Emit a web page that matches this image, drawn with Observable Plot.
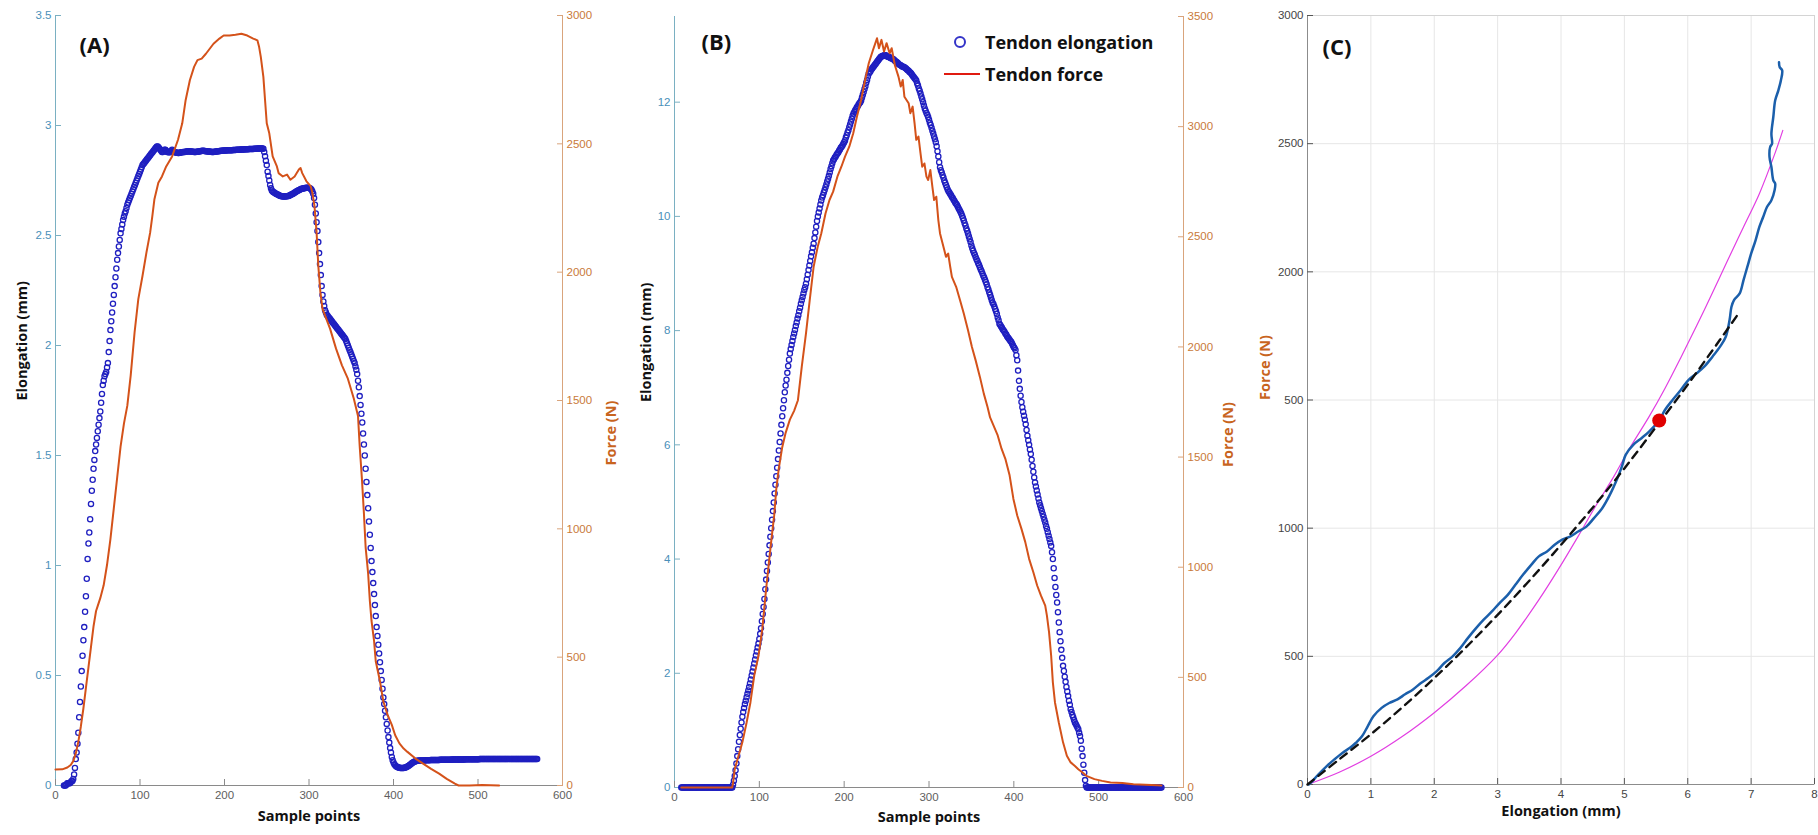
<!DOCTYPE html>
<html><head><meta charset="utf-8">
<script src="https://cdn.jsdelivr.net/npm/d3@7"></script>
<script src="https://cdn.jsdelivr.net/npm/@observablehq/plot@0.6"></script>
<style>
html,body{margin:0;padding:0;background:#fff;}
#chart{position:relative;width:1818px;height:835px;overflow:hidden;background:#fff;}
#chart svg{position:absolute;left:0;top:0;}
.lg{position:absolute;font-family:"Open Sans",sans-serif;font-weight:700;font-size:18px;color:#111;line-height:24px;white-space:nowrap;}
</style></head><body><div id="chart"></div>
<script>
// ---------------- DATA ----------------
// tick values / labels
const ticksSample = [0,100,200,300,400,500,600];
const ticksElongA = [0,0.5,1,1.5,2,2.5,3,3.5];
const ticksForceA = [0,500,1000,1500,2000,2500,3000];
const ticksElongB = [0,2,4,6,8,10,12];
const ticksForceB = [0,500,1000,1500,2000,2500,3000,3500];
const ticksElongC = [0,1,2,3,4,5,6,7,8];
const ticksForceC = [0,500,1000,1500,2000,2500,3000];
const labelsForceC = ["0","500","1000","500","2000","2500","3000"];

// Panel A: tendon elongation (mm), one value per sample point
const elongARiseStart = 10;
const elongARise = [0,0,0,0.005,0.01,0.01,0.01,0.01,0.015,0.02,0.02,0.03,0.05,
0.08,0.12,0.15,0.19,0.24,0.31,0.38,0.45,0.52,0.59,
0.66,0.72,0.79,0.86,0.94,1.03,1.10,1.15,1.21,1.28,
1.34,1.39,1.44,1.48,1.52,1.55,1.58,1.61,1.64,1.67,
1.70,1.74,1.78,1.82,1.84,1.86,1.87,1.88,1.90,1.92,
1.97,2.02,2.07,2.11,2.15,2.19,2.23,2.27,2.31,2.35,
2.39,2.42,2.45,2.48,2.51,2.53,2.55,2.57,2.585,2.60,
2.61,2.625,2.64,2.65,2.66,2.67,2.68,2.69,2.70,2.71,
2.72,2.73,2.74,2.75,
2.76,2.77,2.78,2.79,2.80,2.81,2.82,2.825,2.83,2.835,
2.84,2.845,2.85,2.855,2.86,2.865,2.87,2.875,2.88,2.885,
2.89,2.895,2.90,2.905,2.905];
const elongAPlateauStart = 122;
const elongAPlateau = [2.90,2.895,2.89,2.885,2.88,2.88,2.885,2.89,2.89,
2.885,2.88,2.88,2.878,2.878,2.88,2.885,2.89,2.885,2.88,
2.88,2.878,2.876,2.876,2.875,2.875,2.876,2.877,2.878,2.878,
2.879,2.88,2.88,2.881,2.882,2.882,2.883,2.883,2.882,2.882,
2.882,2.881,2.881,2.88,2.88,2.88,2.881,2.881,2.882,2.882,
2.883,2.884,2.884,2.885,2.885,2.884,2.884,2.883,2.883,2.882,
2.882,2.882,2.881,2.881,2.88,2.88,2.88,2.881,2.881,2.882,
2.882,2.883,2.883,2.884,2.884,2.885,2.885,2.885,2.886,2.886,
2.886,2.886,2.887,2.887,2.887,2.888,2.888,2.888,2.888,2.889,
2.889,2.889,2.889,2.89,2.89,2.89,2.89,2.89,2.891,2.891,
2.891,2.891,2.891,2.892,2.892,2.892,2.892,2.892,2.893,2.893,
2.893,2.893,2.893,2.893,2.894,2.894,2.894,2.894,2.895,2.895,
2.895,2.895,2.895,2.896,2.896,2.894];
const elongAFallStart = 247;
const elongAFall = [2.88,2.86,2.84,2.82,2.79,2.77,2.75,2.73,2.715,2.705,2.70,2.697,
2.695,2.692,2.69,2.688,2.686,2.684,2.682,2.68,2.679,2.678,2.677,2.677,
2.677,2.677,2.678,2.678,2.679,2.68,2.682,2.684,2.686,2.688,
2.69,2.692,2.695,2.697,2.70,2.702,2.704,2.706,2.708,2.71,
2.712,2.713,2.714,2.715,2.716,2.716,2.717,2.717,2.717,2.716,2.715,2.712,2.708,2.70,2.69,
2.67,2.64,2.60,2.56,2.52,2.47,2.42,2.37,2.32,2.27,2.23,2.20,2.18,2.16,2.15,
2.14,2.135,2.13,2.125,2.12,2.115,2.11,2.105,2.10,2.095,2.09,2.085,2.08,2.075,2.07,2.065,2.06,2.055,2.05,2.045,
2.04,2.035,2.03,2.02,2.01,2.00,1.99,1.98,1.97,1.96,1.95,1.94,1.93,1.92,1.905,1.89,
1.87,1.84,1.81,1.77,1.73,1.69,1.65,1.60,
1.55,1.50,1.44,1.38,1.32,1.26,1.20,1.14,1.08,1.02,0.97,
0.92,0.87,0.82,0.77,0.72,0.68,0.64,0.60,0.56,0.52,0.48,0.44,0.40,0.37,0.34,
0.31,0.28,0.25,0.22,0.195,0.17,0.15,0.13,0.115,0.105,0.097,0.092,0.088,0.085,0.083,
0.082,0.081,0.08,0.08,0.08,0.08,0.08,0.081,0.082,0.083,0.085,0.087,0.09,0.093,0.096,
0.099,0.102,0.105,0.107,0.109,0.11,0.111,0.112,0.113,0.113,0.114,0.114,0.114,0.114,0.114];
const elongATailStart = 436;
const elongATail = [0.114,0.114,0.115,0.115,0.115,0.115,0.115,0.115,0.116,0.116,
0.116,0.116,0.116,0.116,0.116,0.116,0.116,0.116,0.116,0.117,
0.117,0.117,0.117,0.117,0.117,0.117,0.117,0.117,0.117,0.117,
0.117,0.117,0.117,0.118,0.118,0.118,0.118,0.118,0.118,0.118,
0.118,0.118,0.118,0.118,0.118,0.118,0.118,0.118,0.118,0.119,
0.119,0.119,0.119,0.119,0.119,0.119,0.119,0.119,0.119,0.119,
0.119,0.119,0.119,0.119,0.119,0.119,0.12,0.12,0.12,0.12,
0.12,0.12,0.12,0.12,0.12,0.12,0.12,0.12,0.12,0.12,
0.12,0.12,0.12,0.12,0.12,0.12,0.12,0.12,0.12,0.12,
0.12,0.12,0.12,0.121,0.121,0.121,0.121,0.121,0.121,0.121,
0.121,0.121,0.121,0.121,0.121,0.121,0.121,0.121,0.121,0.121,
0.121,0.121,0.121,0.121,0.121,0.121,0.121,0.121,0.121,0.121,
0.121,0.121,0.121,0.121,0.121,0.121,0.121,0.121,0.121,0.121,
0.121,0.121,0.121,0.121,0.121];

// Panel A: tendon force (N) as [sample, force]
const forceA = [[0,62],[8,63],[14,70],[18,80],[21,95],[24,125],[27,170],[30,230],[33,300],[36,380],[39,460],[42,540],[45,620],[48,680],[50,700],[53,730],[57,780],[61,860],[65,960],[69,1080],[73,1200],[77,1320],[81,1410],[85,1480],[89,1598],[93.6,1766],[98,1895],[103,1986],[107.6,2076],[112,2154],[114.6,2218],[117,2283],[121.7,2348],[126,2373],[131,2412],[138,2451],[145,2516],[150,2580],[154,2670],[159,2748],[164,2800],[168,2826],[173,2832],[178,2851],[187,2890],[194,2910],[199,2922],[206,2922],[213,2925],[220,2929],[227,2922],[234,2910],[239,2903],[241,2877],[243,2838],[246,2761],[248,2670],[250,2580],[253,2541],[257,2451],[262,2412],[264,2386],[269,2373],[274,2380],[278,2360],[283,2373],[288,2400],[290,2406],[292,2386],[297,2354],[302,2335],[304,2309],[306.5,2257],[309,2154],[311,2025],[313.5,1921],[316,1857],[320.5,1818],[325,1779],[332,1702],[339,1637],[346,1585],[353,1508],[358,1440],[360,1322],[362.7,1191],[365,1060],[367,929],[370,825],[372,720],[374,641],[377,563],[379,484],[384,406],[388,327],[393,275],[398,236],[402,196],[407,164],[412,144],[416.5,131],[426,105],[435,85],[444.5,65],[454,46],[463,26],[472.6,7],[477,0],[490,0],[505,2],[515,1],[525,0]];

// Panel B: tendon elongation (mm), one value per sample point
const elongBBaseStart = 8;
const elongBBase = [0,0,0,0,0,0,0,0,0,0, 0,0,0,0,0,0,0,0,0,0, 0,0,0,0,0,0,0,0,0,0,
0,0,0,0,0,0,0,0,0,0, 0,0,0,0,0,0,0,0,0,0, 0,0,0,0,0,0,0,0,0,0, 0];
const elongBRiseStart = 69;
const elongBRise = [0.05,0.12,0.2,0.3,0.42,0.55,0.67,0.8,0.92,1.03,1.14,1.24,
1.32,1.39,1.46,1.52,1.58,1.64,1.70,1.76,1.82,1.89,1.96,2.03,2.10,2.17,2.24,2.31,2.38,2.45,2.52,2.60,
2.69,2.79,2.91,3.04,3.16,3.30,3.47,3.64,
3.79,3.94,4.09,4.24,4.39,4.54,4.69,4.84,4.99,5.15,5.30,5.45,5.60,5.75,5.90,6.05,6.20,6.35,6.50,
6.64,6.78,6.92,7.04,7.14,7.26,7.38,7.49,7.60,7.68,7.75,7.82,7.89,7.95,
8.01,8.08,8.14,8.21,8.27,8.34,8.40,8.47,8.53,8.59,8.65,8.71,8.76,8.82,8.90,8.98,9.06,9.14,9.22,9.30,9.37,9.45,9.52,9.62,9.72,9.82,9.92,
10.0,10.07,10.14,10.21,10.28,10.33,10.37,10.42,10.46,10.51,10.56,10.61,10.66,10.71,10.77,10.83,10.88,10.93,10.98,11.0,11.03,11.05,11.08,11.1,11.12,11.15,11.17,11.2,11.22,11.24,11.27,11.3,11.33,
11.38,11.42,11.47,11.51,11.56,11.61,11.66,11.71,11.76,11.8,11.83,11.86,11.88,11.91,11.93,11.96,11.98,12.0,12.03,12.08,12.13,12.18,12.23,12.28,12.34,12.39,12.45,12.5,12.52,12.54,12.57,12.59,12.61,12.63,12.65,12.67,12.69,12.71,12.73,12.75,12.77,12.79,12.8,12.81,12.81,12.82,12.82];
const elongBFallStart = 249;
const elongBFall = [12.82,12.81,12.80,12.79,12.79,12.78,12.77,12.77,12.76,12.75,12.74,12.72,12.71,12.70,12.69,12.67,12.66,12.65,12.64,12.63,12.62,12.62,12.61,12.6,12.59,12.57,12.56,12.55,12.53,12.52,12.50,12.48,12.46,12.44,12.42,12.40,12.38,
12.33,12.29,12.24,12.20,12.15,12.10,12.05,12.0,11.94,11.89,11.85,11.81,11.78,11.74,11.69,11.64,11.6,11.55,11.5,11.45,11.4,11.35,11.3,11.23,11.14,11.05,10.95,10.86,
10.81,10.77,10.72,10.68,10.63,10.59,10.55,10.51,10.47,10.44,10.42,10.39,10.37,10.34,10.32,10.29,10.27,10.24,10.22,10.2,10.17,10.14,10.11,10.08,10.05,10.01,9.97,9.93,
9.88,9.84,9.79,9.75,9.70,9.65,9.60,9.55,9.49,9.44, 9.40,9.36,9.33,9.29,9.25,9.22,9.18,9.15,9.11,9.07,
9.04,9.0,8.96,8.93,8.89,8.85,8.81,8.76,8.72,8.67, 8.63,8.58,8.53,8.49,8.46,8.42,8.38,8.34,8.29,8.23,
8.18,8.12,8.10,8.07,8.05,8.02,8.0,7.98,7.95,7.93, 7.90,7.88,7.86,7.84,7.82,7.8,7.77,7.74,7.71,7.69,
7.66,7.57,7.48,7.3,7.12,6.98,6.86,6.75,6.66,6.58,
6.51,6.44,6.36,6.26,6.16,6.08,6.0,5.92,5.84,5.74, 5.63,5.53,5.43,5.34,5.27,5.2,5.13,5.06,4.99,4.94,
4.89,4.84,4.79,4.74,4.69,4.64,4.58,4.53,4.47,4.41, 4.35,4.29,4.23,4.12,4.0,3.84,3.67,3.51,3.37,3.24,
3.07,2.89,2.72,2.56,2.41,2.27,2.13,2.04,1.94,1.85, 1.76,1.68,1.6,1.52,1.45,1.37,1.32,1.27,1.23,1.18,
1.14,1.11,1.08,1.05,1.02,0.96,0.9,0.82,0.68,0.55, 0.4,0.26,0.13,0.03];
const elongBTailStart = 486;
const elongBTail = [0,0,0,0,0,0,0,0,0,0, 0,0,0,0,0,0,0,0,0,0, 0,0,0,0,0,0,0,0,0,0,
0,0,0,0,0,0,0,0,0,0, 0,0,0,0,0,0,0,0,0,0, 0,0,0,0,0,0,0,0,0,0,
0,0,0,0,0,0,0,0,0,0, 0,0,0,0,0,0,0,0,0,0, 0,0,0,0,0,0,0,0,0];

// Panel B: tendon force (N) as [sample, force]
const forceB = [[8,0],[68,0],[69,20],[71,83],[75.5,144],[80,205],[85,295],[89.5,386],[94,508],[99,598],[103.5,720],[108,901],[113,1083],[117.5,1235],[120,1356],[123,1450],[127,1545],[131,1610],[136,1670],[141,1710],[145.5,1758],[150,1909],[155,2061],[159.4,2212],[164,2364],[168.8,2455],[173,2515],[178,2606],[182.7,2667],[187,2705],[192,2773],[196.7,2818],[201,2864],[206,2909],[210.7,2970],[215,3045],[220,3121],[224.7,3212],[229,3288],[234,3348],[238.7,3401],[241,3356],[244,3394],[247,3341],[250,3379],[253.6,3333],[256,3356],[259.7,3280],[264,3227],[266.7,3182],[269,3212],[271,3136],[276,3106],[278,3061],[280.7,3091],[283,3015],[285,2940],[287.6,2955],[290,2879],[292,2818],[294.6,2833],[297,2773],[299,2758],[301.6,2803],[304,2727],[306,2667],[308.6,2682],[311,2576],[313,2515],[318,2440],[320,2409],[322.6,2424],[325,2364],[327,2318],[332,2273],[336.6,2212],[341,2152],[346,2076],[350.6,2000],[355,1939],[360,1864],[364.6,1788],[369,1727],[372,1680],[376,1644],[381,1598],[385.5,1538],[390,1492],[395,1417],[399.5,1310],[404,1235],[409,1174],[413.5,1114],[418,1038],[423,977],[427.5,917],[432,871],[437,826],[439,780],[441.5,705],[444,598],[446,477],[448.5,386],[453,295],[458,205],[462.5,144],[467,114],[472,98],[476,83],[481,68],[485.5,53],[495,38],[504,30],[514,23],[528,20],[541,15],[555,12],[569,10],[574,9]];

// Panel C: force-elongation curve (elongation mm, force N)
const curveCElong = [0.02,0.05,0.17,0.3,0.42,0.55,0.67,0.76,0.86,0.95,1.04,1.17,1.29,1.42,1.54,1.66,1.79,1.91,2.04,2.16,2.29,2.41,2.53,2.66,2.78,2.91,3.03,3.16,3.28,3.4,3.53,3.65,3.78,3.9,4.02,4.15,4.27,4.4,4.52,4.65,4.77,4.89,4.96,5.02,5.14,5.27,5.39,5.55,5.64,5.76,5.89,6.01,6.14,6.26,6.39,6.51,6.6,6.66,6.69,6.73,6.82,6.88,6.94,7.0,7.07,7.13,7.19,7.25,7.32,7.37,7.38,7.35,7.32,7.29,7.3,7.33,7.32,7.35,7.38,7.43,7.47,7.49,7.45,7.44];
const curveCForce = [0,6,39,71,97,123,143,162,188,227,266,299,318,332,352,370,396,416,442,474,500,532,571,610,643,675,708,740,779,818,857,890,909,935,955,968,987,1006,1039,1078,1130,1195,1240,1286,1325,1351,1377,1420,1461,1500,1539,1578,1604,1630,1669,1708,1747,1812,1864,1890,1916,1968,2019,2071,2123,2175,2214,2253,2279,2318,2344,2357,2409,2448,2487,2500,2539,2604,2669,2708,2747,2786,2799,2818];
// dashed fitted line
const fitCElong = [0,0.5,1,1.5,2,2.5,3,3.5,4,4.5,5,5.5,6,6.5,6.82];
const fitCForce = [0,98,196,302,415,535,662,795,935,1080,1233,1395,1560,1732,1844];
// magenta model curve
const modelCElong = [0,0.5,1,1.5,2,2.5,3,3.28,3.65,3.96,4.27,4.52,4.83,5.08,5.39,5.64,5.89,6.14,6.39,6.63,6.88,7.13,7.38,7.5];
const modelCForce = [0,48,110,188,280,385,505,590,720,840,968,1075,1200,1310,1435,1545,1665,1790,1918,2045,2175,2305,2465,2552];
// red marker
const markerC = {elong: 5.55, force: 1420};

// ---------------- BUILD ----------------
const W = 1818, H = 835;
const root = document.getElementById("chart");
const seg = (start, arr) => arr.map((v, i) => ({x: start + i, y: v}));
const pairs = arr => arr.map(([x, y]) => ({x, y}));
const zip = (xs, ys) => xs.map((x, i) => ({x, y: ys[i]}));

const elongA = [...seg(elongARiseStart, elongARise), ...seg(elongAPlateauStart, elongAPlateau), ...seg(elongAFallStart, elongAFall), ...seg(elongATailStart, elongATail)];
const elongB = [...seg(elongBBaseStart, elongBBase), ...seg(elongBRiseStart, elongBRise), ...seg(elongBFallStart, elongBFall), ...seg(elongBTailStart, elongBTail)];

const BLUE_DOT = "#1f1fc0", ORANGE = "#d4521a";
const LEFT_LINE = "#7ab0c2", LEFT_TXT = "#4a90b9";
const RIGHT_LINE = "#d9a47c", RIGHT_TXT = "#c97a3a";
const BOT_LINE = "#8a8a8a", BOT_TXT = "#5e5e5e";
const TICK_FONT = "Liberation Sans, Arial, sans-serif";
const LBL_FONT = "Open Sans, sans-serif";

const base = (box) => ({
  width: W, height: H,
  marginLeft: box.l, marginRight: W - box.r, marginTop: box.t, marginBottom: H - box.b,
  style: {background: "transparent", fontFamily: TICK_FONT, overflow: "visible"}
});
const yAx = (anchor, ticks, fmt, line, txt) => Plot.axisY({anchor, ticks, tickFormat: fmt, tickSize: -6, tickPadding: 10, stroke: line, fill: txt, fontSize: 11.5, label: null});
const xAx = (ticks, line, txt) => Plot.axisX({anchor: "bottom", ticks, tickFormat: d => String(d), tickSize: -6, tickPadding: 11, stroke: line, fill: txt, fontSize: 11.5, label: null});
const yLabel = (t, anchor, dx, fill) => Plot.text([t], {text: d => d, frameAnchor: anchor, dx, rotate: -90, fontFamily: LBL_FONT, fontWeight: 700, fontSize: 14.5, fill});
const xLabel = (t, dy) => Plot.text([t], {text: d => d, frameAnchor: "bottom", dy, fontFamily: LBL_FONT, fontWeight: 700, fontSize: 14.5, fill: "#111"});
const panelTag = (t, dx, dy) => Plot.text([t], {text: d => d, frameAnchor: "top-left", dx, dy, textAnchor: "start", fontFamily: LBL_FONT, fontWeight: 700, fontSize: 22, fill: "#111"});

// ---- Panel A ----
const boxA = {l: 55, r: 562, t: 15, b: 785};
root.appendChild(Plot.plot({
  ...base(boxA),
  x: {domain: [0, 600], axis: null},
  y: {domain: [0, 3.5], axis: null},
  marks: [
    Plot.ruleX([0], {stroke: LEFT_LINE}),
    Plot.ruleY([0], {stroke: BOT_LINE}),
    yAx("left", ticksElongA, d => String(d), LEFT_LINE, LEFT_TXT),
    xAx(ticksSample, BOT_LINE, BOT_TXT),
    Plot.dot(elongA, {x: "x", y: "y", r: 2.6, stroke: BLUE_DOT, strokeWidth: 1.3, fill: "none"}),
    yLabel("Elongation (mm)", "left", -33, "#111"),
    xLabel("Sample points", 35),
    panelTag("(A)", 24, 22)
  ]
}));
root.appendChild(Plot.plot({
  ...base(boxA),
  x: {domain: [0, 600], axis: null},
  y: {domain: [0, 3000], axis: null},
  marks: [
    Plot.ruleX([600], {stroke: RIGHT_LINE}),
    yAx("right", ticksForceA, d => String(d), RIGHT_LINE, RIGHT_TXT),
    Plot.line(pairs(forceA), {x: "x", y: "y", stroke: ORANGE, strokeWidth: 2}),
    yLabel("Force (N)", "right", 49, "#c8641e")
  ]
}));

// ---- Panel B ----
const boxB = {l: 674, r: 1183, t: 16, b: 787};
root.appendChild(Plot.plot({
  ...base(boxB),
  x: {domain: [0, 600], axis: null},
  y: {domain: [0, 13.5], axis: null},
  marks: [
    Plot.ruleX([0], {stroke: LEFT_LINE}),
    Plot.ruleY([0], {stroke: BOT_LINE}),
    yAx("left", ticksElongB, d => String(d), LEFT_LINE, LEFT_TXT),
    xAx(ticksSample, BOT_LINE, BOT_TXT),
    Plot.dot(elongB, {x: "x", y: "y", r: 2.6, stroke: BLUE_DOT, strokeWidth: 1.3, fill: "none"}),
    yLabel("Elongation (mm)", "left", -28, "#111"),
    xLabel("Sample points", 34),
    panelTag("(B)", 27, 18)
  ]
}));
root.appendChild(Plot.plot({
  ...base(boxB),
  x: {domain: [0, 600], axis: null},
  y: {domain: [0, 3500], axis: null},
  marks: [
    Plot.ruleX([600], {stroke: RIGHT_LINE}),
    yAx("right", ticksForceB, d => String(d), RIGHT_LINE, RIGHT_TXT),
    Plot.line(pairs(forceB), {x: "x", y: "y", stroke: ORANGE, strokeWidth: 2}),
    yLabel("Force (N)", "right", 45, "#c8641e")
  ]
}));

// ---- Panel C ----
const boxC = {l: 1307, r: 1814, t: 15, b: 784};
const cLabelMap = new Map(ticksForceC.map((t, i) => [t, labelsForceC[i]]));
root.appendChild(Plot.plot({
  ...base(boxC),
  x: {domain: [0, 8], axis: null},
  y: {domain: [0, 3000], axis: null},
  marks: [
    Plot.ruleX(ticksElongC, {stroke: "#e6e6e6"}),
    Plot.ruleY(ticksForceC, {stroke: "#e6e6e6"}),
    Plot.frame({stroke: "#d4d4d4"}),
    Plot.ruleX([0], {stroke: "#8c8c8c"}),
    Plot.ruleY([0], {stroke: "#8c8c8c"}),
    yAx("left", ticksForceC, d => cLabelMap.get(d), "#555", "#444"),
    xAx(ticksElongC, "#555", "#444"),
    Plot.line(zip(modelCElong, modelCForce), {x: "x", y: "y", stroke: "#e23ee2", strokeWidth: 1.2, curve: "catmull-rom"}),
    Plot.line(zip(curveCElong, curveCForce), {x: "x", y: "y", stroke: "#1b5fab", strokeWidth: 2.5, curve: "catmull-rom"}),
    Plot.line(zip(fitCElong, fitCForce), {x: "x", y: "y", stroke: "#111", strokeWidth: 2.4, strokeDasharray: "8,6", curve: "catmull-rom"}),
    Plot.dot([markerC], {x: "elong", y: "force", r: 7, fill: "#e00000"}),
    yLabel("Force (N)", "left", -42, "#c8641e"),
    xLabel("Elongation (mm)", 31),
    panelTag("(C)", 15, 24)
  ]
}));

// ---- Legend for panel B ----
function legendItem(marker, label, left, top) {
  const sw = document.createElement("div");
  sw.className = "lg";
  sw.style.left = left + "px"; sw.style.top = top + "px";
  sw.innerHTML = marker + `<span style="position:absolute;left:41px;top:0">${label}</span>`;
  root.appendChild(sw);
}
legendItem(`<svg width="36" height="24" style="position:absolute;left:0;top:0"><circle cx="16" cy="12" r="5" fill="none" stroke="#3434c8" stroke-width="2"/></svg>`, "Tendon elongation", 944, 30);
legendItem(`<svg width="36" height="24" style="position:absolute;left:0;top:0"><line x1="0" x2="36" y1="12" y2="12" stroke="#e01a10" stroke-width="2.2"/></svg>`, "Tendon force", 944, 62);
</script></body></html>
